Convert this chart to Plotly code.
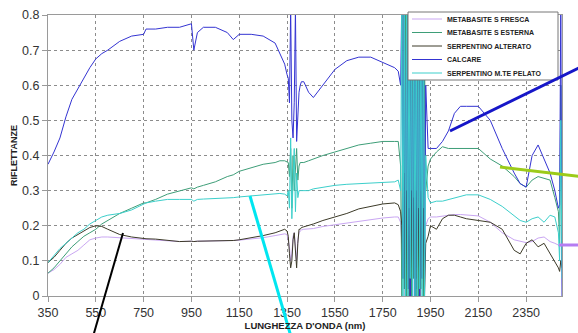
import plotly.graph_objects as go

# ---------------- data ----------------
wavelength_nm = [
    # smooth part
    350, 375, 400, 425, 450, 475, 500, 525, 550, 575, 600, 650, 700, 750, 760, 800,
    850, 900, 950, 960, 975, 1000, 1050, 1100, 1125, 1150, 1200, 1250, 1300, 1320, 1340, 1350,
    # water band ~1400
    1355, 1360, 1365, 1370, 1375, 1380, 1385, 1390, 1395, 1400, 1405, 1410,
    # smooth part
    1420, 1440, 1460, 1500, 1550, 1600, 1650, 1700, 1750, 1800, 1815, 1825,
    # noisy band ~1900
    1830, 1835, 1840, 1845, 1850, 1855, 1860, 1865, 1870, 1875, 1880, 1885, 1890, 1895,
    1900, 1905, 1910, 1915, 1920, 1925, 1930,
    # SWIR part
    1940, 1950, 1975, 2000, 2025, 2050, 2075, 2100, 2150, 2200, 2250, 2300, 2325, 2350,
    2375, 2400, 2425, 2450, 2470, 2485, 2490, 2495, 2500,
]

metabasite_fresca = [
    0.065, 0.075, 0.09, 0.11, 0.12, 0.13, 0.145, 0.16, 0.165, 0.168, 0.168, 0.166, 0.165, 0.163, 0.162, 0.160,
    0.157, 0.155, 0.156, 0.155, 0.156, 0.156, 0.157, 0.157, 0.158, 0.159, 0.162, 0.166, 0.172, 0.175, 0.177, 0.175,
    0.16, 0.14, 0.10, 0.12, 0.17, 0.18, 0.14, 0.10, 0.16, 0.18, 0.185, 0.188,
    0.19, 0.19, 0.192, 0.198, 0.203, 0.208, 0.213, 0.218, 0.222, 0.225, 0.225, 0.21,
    0.15, 0.30, 0.05, 0.28, 0.08, 0.30, 0.05, 0.25, 0.10, 0.30, 0.05, 0.28, 0.08, 0.30,
    0.05, 0.25, 0.10, 0.28, 0.05, 0.20, 0.20,
    0.22, 0.225, 0.225, 0.228, 0.23, 0.232, 0.232, 0.23, 0.228, 0.21, 0.18, 0.16, 0.155, 0.152,
    0.155, 0.165, 0.168, 0.155, 0.15, 0.145, 0.14, 0.145, 0.145,
]

metabasite_esterna = [
    0.065, 0.08, 0.10, 0.12, 0.14, 0.155, 0.17, 0.18, 0.19, 0.205, 0.215, 0.235, 0.25, 0.265, 0.265, 0.275,
    0.29, 0.30, 0.308, 0.305, 0.31, 0.315, 0.325, 0.34, 0.345, 0.355, 0.365, 0.375, 0.38, 0.385, 0.385, 0.38,
    0.38, 0.34, 0.42, 0.25, 0.40, 0.30, 0.36, 0.42, 0.33, 0.37, 0.38, 0.38,
    0.38, 0.385, 0.39, 0.40, 0.41, 0.42, 0.43, 0.435, 0.44, 0.44, 0.44, 0.37,
    0.0, 0.80, 0.02, 0.85, 0.0, 0.85, 0.0, 0.82, 0.0, 0.85, 0.05, 0.85, 0.0, 0.85,
    0.0, 0.80, 0.02, 0.85, 0.0, 0.70, 0.30,
    0.37, 0.39, 0.41, 0.425, 0.42, 0.42, 0.42, 0.42, 0.42, 0.39, 0.37, 0.34, 0.32, 0.31,
    0.33, 0.34, 0.335, 0.33, 0.28, 0.24, 0.15, 0.60, 0.10,
]

serpentino_alterato = [
    0.095, 0.11, 0.13, 0.15, 0.165, 0.175, 0.185, 0.195, 0.20, 0.198, 0.19, 0.175, 0.168, 0.163, 0.163, 0.162,
    0.158, 0.155, 0.156, 0.155, 0.156, 0.156, 0.157, 0.158, 0.158, 0.16, 0.165, 0.172, 0.18, 0.186, 0.19, 0.185,
    0.17, 0.12, 0.08, 0.10, 0.16, 0.18, 0.12, 0.08, 0.15, 0.19, 0.19, 0.195,
    0.197, 0.20, 0.205, 0.215, 0.225, 0.235, 0.248, 0.255, 0.262, 0.265, 0.26, 0.24,
    0.20, 0.05, 0.35, 0.0, 0.30, 0.02, 0.25, 0.0, 0.30, 0.05, 0.28, 0.0, 0.30, 0.05,
    0.25, 0.0, 0.30, 0.05, 0.25, 0.0, 0.15,
    0.17, 0.20, 0.19, 0.22, 0.23, 0.23, 0.225, 0.22, 0.215, 0.21, 0.19, 0.13, 0.12, 0.15,
    0.16, 0.14, 0.15, 0.12, 0.10, 0.08, 0.07, 0.10, 0.08,
]

calcare = [
    0.375, 0.41, 0.45, 0.51, 0.56, 0.59, 0.62, 0.65, 0.675, 0.69, 0.70, 0.725, 0.74, 0.745, 0.76, 0.76,
    0.765, 0.765, 0.775, 0.70, 0.75, 0.765, 0.765, 0.75, 0.73, 0.745, 0.745, 0.74, 0.72, 0.69, 0.66, 0.63,
    0.62, 0.55, 0.82, 0.50, 0.45, 0.55, 0.82, 0.44, 0.50, 0.58, 0.60, 0.61,
    0.61, 0.58, 0.565, 0.60, 0.645, 0.67, 0.68, 0.68, 0.665, 0.65, 0.64, 0.60,
    0.85, 0.05, 0.85, 0.0, 0.85, 0.02, 0.85, 0.0, 0.85, 0.0, 0.85, 0.0, 0.85, 0.02,
    0.85, 0.0, 0.85, 0.05, 0.85, 0.0, 0.60,
    0.42, 0.42, 0.42, 0.44, 0.47, 0.52, 0.54, 0.54, 0.54, 0.50, 0.42, 0.35, 0.32, 0.31,
    0.40, 0.43, 0.39, 0.35, 0.30, 0.25, 0.26, 0.85, 0.0,
]

serpentino_pelato = [
    0.095, 0.115, 0.135, 0.15, 0.165, 0.18, 0.19, 0.205, 0.215, 0.225, 0.23, 0.235, 0.245, 0.26, 0.265, 0.27,
    0.275, 0.275, 0.275, 0.27, 0.275, 0.276, 0.277, 0.278, 0.28, 0.282, 0.285, 0.288, 0.29, 0.292, 0.29, 0.285,
    0.30, 0.25, 0.45, 0.22, 0.33, 0.42, 0.24, 0.35, 0.28, 0.30, 0.30, 0.30,
    0.30, 0.30, 0.305, 0.31, 0.315, 0.318, 0.32, 0.322, 0.325, 0.325, 0.33, 0.30,
    0.85, 0.0, 0.85, 0.0, 0.85, 0.0, 0.85, 0.05, 0.85, 0.0, 0.85, 0.0, 0.85, 0.0,
    0.85, 0.02, 0.85, 0.0, 0.85, 0.0, 0.40,
    0.28, 0.265, 0.27, 0.27, 0.275, 0.28, 0.285, 0.288, 0.288, 0.275, 0.255, 0.23, 0.215, 0.21,
    0.22, 0.225, 0.21, 0.23, 0.225, 0.18, 0.10, 0.50, 0.05,
]

series_names = ["METABASITE S FRESCA", "METABASITE S ESTERNA", "SERPENTINO ALTERATO",
                "CALCARE", "SERPENTINO M.TE PELATO"]
series_values = [metabasite_fresca, metabasite_esterna, serpentino_alterato,
                 calcare, serpentino_pelato]
series_colors = ["#C9A6F2", "#3E9E78", "#3C3A28", "#3434D2", "#3CCFCB"]

x_ticks = [350, 550, 750, 950, 1150, 1350, 1550, 1750, 1950, 2150, 2350]
y_ticks = [0, 0.1, 0.2, 0.3, 0.4, 0.5, 0.6, 0.7, 0.8]

# ---------------- figure ----------------
W, H = 578, 333
ML, MR, MT, MB = 48, 16, 15, 37
PW, PH = W - ML - MR, H - MT - MB


def px(x):
    return (x - ML) / PW


def py(y):
    return (H - MB - y) / PH


fig = go.Figure()
legend_y_px = [19, 32.5, 46, 59.5, 73]
for i, (name, vals, col) in enumerate(zip(series_names, series_values, series_colors)):
    lg = "legend" if i == 0 else f"legend{i + 1}"
    fig.add_trace(go.Scatter(
        x=wavelength_nm, y=vals, mode="lines", name=f"<b>{name}</b>",
        line=dict(color=col, width=1), legend=lg,
    ))

font_family = "Liberation Sans, Arial, sans-serif"
legend_common = dict(
    x=px(407), xanchor="left", yanchor="middle", bgcolor="rgba(0,0,0,0)",
    borderwidth=0, font=dict(family=font_family, size=7, color="#222"),
    itemwidth=30,
)
layout_legends = {}
for i, ypx in enumerate(legend_y_px):
    key = "legend" if i == 0 else f"legend{i + 1}"
    layout_legends[key] = dict(legend_common, y=py(ypx))

axis_common = dict(
    showline=True, linecolor="#9a9a9a", linewidth=1, mirror=True,
    showgrid=True, gridcolor="#8c8c8c", griddash="dot", gridwidth=1,
    ticks="outside", ticklen=5, tickcolor="#9a9a9a",
    tickfont=dict(family=font_family, size=12.5, color="#333"),
    zeroline=False, automargin=False,
)

fig.update_layout(
    width=W, height=H,
    margin=dict(l=ML, r=MR, t=MT, b=MB, autoexpand=False),
    paper_bgcolor="white", plot_bgcolor="white",
    showlegend=True,
    xaxis=dict(axis_common, range=[350, 2500], tickvals=x_ticks,
               title=dict(text="<b>LUNGHEZZA D'ONDA (nm)</b>", standoff=2,
                          font=dict(family=font_family, size=9.5, color="#222"))),
    yaxis=dict(axis_common, range=[0, 0.8], tickvals=y_ticks,
               ticktext=["0", "0.1", "0.2", "0.3", "0.4", "0.5", "0.6", "0.7", "0.8"],
               title=dict(text="<b>RIFLETTANZE</b>", standoff=2,
                          font=dict(family=font_family, size=9, color="#222"))),
    **layout_legends,
)

# legend box (white panel behind the legend entries)
fig.add_shape(type="rect", xref="paper", yref="paper",
              x0=px(408), x1=px(558), y0=py(80), y1=py(12),
              fillcolor="white", line=dict(color="#777", width=1), layer="above")

# pointer lines drawn on the original figure
pointers = [
    ((123, 233), (92, 340), "#000000", 2),
    ((250, 196), (292, 340), "#00E6F0", 3),
    ((450, 131), (585, 65), "#1616C8", 3),
    ((500, 167), (585, 177), "#9CCB19", 3),
    ((559, 245), (585, 245), "#B57CF2", 3),
]
for (x0, y0), (x1, y1), col, w in pointers:
    fig.add_shape(type="line", xref="paper", yref="paper",
                  x0=px(x0), y0=py(y0), x1=px(x1), y1=py(y1),
                  line=dict(color=col, width=w), layer="above")

fig.write_html(
    "out.html",
    config={"displayModeBar": False},
    post_script="document.body.style.margin='0px';document.body.style.overflow='hidden';",
)
